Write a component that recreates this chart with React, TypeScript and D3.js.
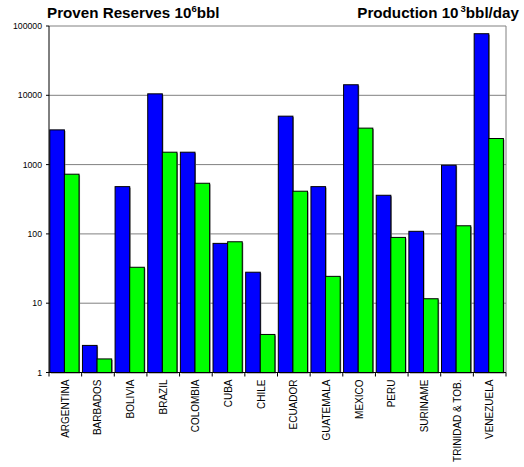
import * as d3 from "d3";

// countries along the x axis
const countries = [
  "ARGENTINA", "BARBADOS", "BOLIVIA", "BRAZIL", "COLOMBIA", "CUBA", "CHILE",
  "ECUADOR", "GUATEMALA", "MEXICO", "PERU", "SURINAME", "TRINIDAD & TOB.", "VENEZUELA",
];
// proven reserves, 10^6 bbl
const reserves = [3170, 2.46, 481, 10500, 1510, 73, 28, 5000, 481, 14200, 361, 109, 980, 77400];
// production, 10^3 bbl/day
const production = [727, 1.57, 33, 1510, 538, 77, 3.54, 413, 24.4, 3360, 89, 11.6, 131, 2380];
const yTicks = [1, 10, 100, 1000, 10000, 100000];
const seriesColors = ["#0000ff", "#00ff00"];

const W = 524, H = 467;
const left = 49, right = 506, top = 26, bottom = 372.5;
const font = "'Liberation Sans', Arial, sans-serif";

export default function App() {
  const x = d3.scaleBand<string>().domain(countries).range([left, right]).padding(0);
  const step = x.step();
  const y = d3.scaleLog().domain([1, 100000]).range([bottom, top]);
  const sub = d3.scaleBand<number>().domain([0, 1]).range([0.8, step - 2.6]).padding(0);
  const series = [reserves, production];

  return (
    <svg width={W} height={H} style={{ position: "absolute", left: 0, top: 0 }} fontFamily={font}>
      <rect width={W} height={H} fill="#fff" />
      {/* titles */}
      <text x={47} y={18} fontSize={15.2} fontWeight="bold">
        Proven Reserves 10<tspan fontSize={9.5} dy={-6}>6</tspan><tspan dy={6}>bbl</tspan>
      </text>
      <text x={519} y={18} fontSize={15.2} fontWeight="bold" textAnchor="end">
        Production 10<tspan fontSize={9.5} dx={2} dy={-6}>3</tspan><tspan dy={6}>bbl/day</tspan>
      </text>

      {/* grid */}
      {yTicks.map((t) => (
        <g key={t}>
          <line x1={left} x2={right} y1={y(t)} y2={y(t)} stroke="#808080" strokeWidth={1} />
          <line x1={left - 3} x2={left} y1={y(t)} y2={y(t)} stroke="#000" />
          <text x={42} y={y(t)} dy="0.35em" fontSize={8.7} textAnchor="end">{t}</text>
        </g>
      ))}
      <line x1={right} x2={right} y1={top} y2={bottom} stroke="#808080" />

      {/* bars */}
      {countries.map((c, i) => (
        <g key={c} transform={`translate(${x(c)},0)`}>
          {series.map((s, k) => (
            <g key={k}>
              <rect x={sub(k)! + 1} y={y(s[i]) + 1} width={sub.bandwidth()} height={bottom - y(s[i])}
                fill="#7a7a7a" />
              <rect x={sub(k)} y={y(s[i])} width={sub.bandwidth()} height={bottom - y(s[i])}
                fill={seriesColors[k]} stroke="#000" strokeWidth={1} />
            </g>
          ))}
        </g>
      ))}

      {/* axes */}
      <line x1={left} x2={left} y1={top} y2={bottom} stroke="#000" />
      <line x1={left} x2={right} y1={bottom} y2={bottom} stroke="#000" />
      {d3.range(countries.length + 1).map((i) => (
        <line key={i} x1={left + i * step} x2={left + i * step} y1={bottom} y2={bottom + 4} stroke="#000" />
      ))}
      {countries.map((c) => (
        <text key={c} fontSize={10}
          transform={`translate(${x(c)! + step / 2},${bottom + 7}) rotate(-90)`}
          textAnchor="end" dy="0.35em">{c}</text>
      ))}
    </svg>
  );
}
